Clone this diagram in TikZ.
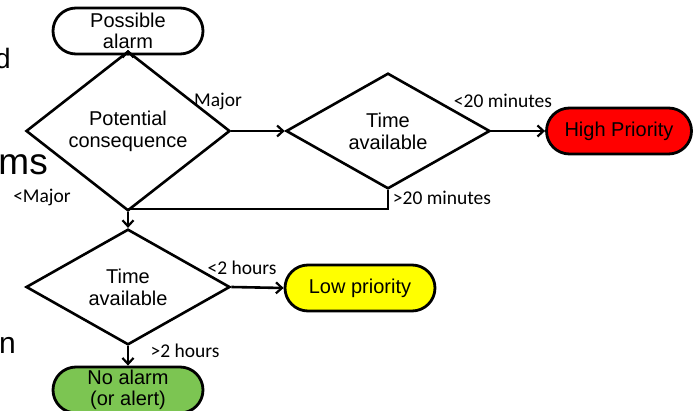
\documentclass[tikz,border=0pt]{standalone}
\usepackage{fontspec}
\setmainfont{Liberation Sans}
\newfontfamily\lblfont{Carlito}
\usetikzlibrary{shapes.geometric,shapes.misc,arrows.meta}

\definecolor{alarmRed}{HTML}{FF0000}
\definecolor{alarmYellow}{HTML}{FFFF00}
\definecolor{alarmGreen}{HTML}{7CC552}

\begin{document}
\begin{tikzpicture}[
    x=1pt, y=-1pt,
    % 统一的样式
    flow/.style={line width=2.6pt, -{Straight Barb[length=6pt,width=11pt,line width=2.2pt]}},
    plainline/.style={line width=2.6pt},
    pill/.style={rounded rectangle, draw, line width=2.8pt, align=center,
                 minimum width=150pt, minimum height=46pt, inner sep=0pt,
                 font=\fontsize{20}{21}\selectfont},
    choice/.style={diamond, draw, line width=2.6pt, align=center,
                   minimum width=204pt, minimum height=107pt, inner sep=0pt,
                   font=\fontsize{20}{22}\selectfont},
    lbl/.style={font=\lblfont\fontsize{19.5}{21}\selectfont, inner sep=0pt},
    stray/.style={inner sep=0pt, anchor=base east}
]
    \useasboundingbox (0,0) rectangle (693,411);

    % --- 残留文字 ---
    \node[stray, font=\fontsize{28}{28}\selectfont] (strayd) at (11,69) {d};
    \node[stray, font=\fontsize{37}{37}\selectfont] (straym) at (48,175) {ms};
    \node[stray, font=\fontsize{30}{30}\selectfont] (strayn) at (16,353) {n};

    % --- 节点 ---
    \node[pill] (alarm) at (128,31) {Possible\\alarm};
    \node[choice] (conseq) at (128,131) {Potential\\consequence};
    \node[choice] (timeA) at (388,131) {Time\\available};
    \node[pill, fill=alarmRed, minimum width=145pt] (high) at (619,131) {High Priority};
    \node[choice] (timeB) at (128,287) {Time\\available};
    \node[pill, fill=alarmYellow] (low) at (360,288) {Low priority};
    \node[pill, fill=alarmGreen] (noalarm) at (128,390) {No alarm\\(or alert)};
    \coordinate (join) at (128,209);

    % --- 连线 ---
    \draw[flow] (alarm) -- (conseq.north);
    \draw[flow] (conseq.east) -- (timeA.west);
    \draw[flow] (timeA.east) -- (high.west);
    \draw[flow] (conseq.south) -- (timeB.north);
    \draw[plainline] (timeA.south) |- (join);
    \draw[flow] (timeB.east) -- (low.west);
    \draw[flow] (timeB.south) -- (noalarm.north);

    % --- 标签 ---
    \node[lbl] (lmajor) at (218,101) {Major};
    \node[lbl] (lfast) at (503,101) {<20 minutes};
    \node[lbl] (lminor) at (42,197) {<Major};
    \node[lbl] (lslow) at (442,198) {>20 minutes};
    \node[lbl] (lshort) at (242,268) {<2 hours};
    \node[lbl] (llong) at (185,351) {>2 hours};

\end{tikzpicture}
\end{document}
